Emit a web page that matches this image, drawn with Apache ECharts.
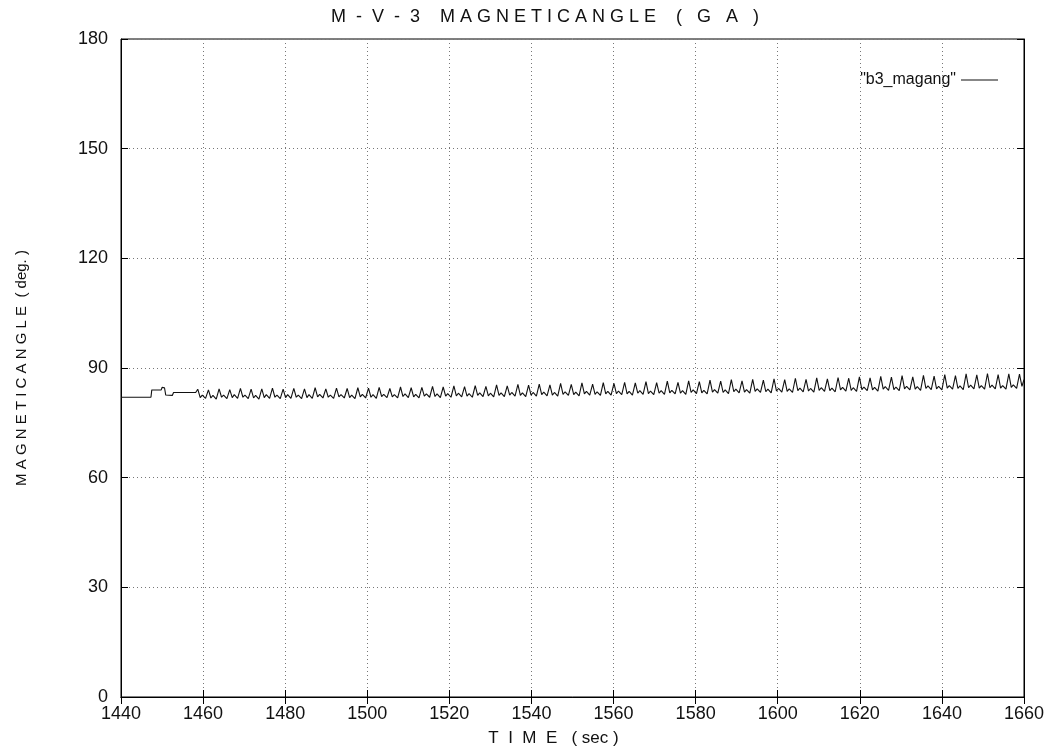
<!DOCTYPE html>
<html>
<head>
<meta charset="utf-8">
<script src="https://cdn.jsdelivr.net/npm/echarts@6/dist/echarts.min.js"></script>
<style>html,body{margin:0;padding:0;background:#fff}#c{width:1055px;height:755px}</style>
</head>
<body>
<div id="c"></div>
<script>
const chartTitle = 'M  -  V  -  3    M A G N E T I C A N G L E    (   G   A   )';
const xName = 'T  I  M  E   ( sec )';
const yName = 'M A G N E T I C A N G L E  ( deg. )';
const seriesName = '"b3_magang"';
const xRange = [1440, 1660, 20];
const yRange = [0, 180, 30];

// flat start before the oscillations: [time, angle]
const leadIn = [
  [1440,82.0],[1447.3,82.0],[1447.5,84.0],[1449.8,84.0],[1450.0,84.7],[1450.6,84.6],
  [1450.9,82.6],[1452.5,82.5],[1452.8,83.3],[1458.2,83.3]
];
// oscillating part: [time, angle]
const oscillation = [
  [1458.7,84.2],[1459.3,81.9],[1459.8,82.6],[1460.6,81.7],
  [1461.3,84.0],[1461.9,81.8],[1462.4,82.5],[1463.2,81.5],
  [1463.9,84.3],[1464.5,82.0],[1465.0,82.6],[1465.8,81.6],
  [1466.5,84.1],[1467.1,81.9],[1467.6,82.7],[1468.4,81.7],
  [1469.1,84.4],[1469.7,82.0],[1470.2,82.6],[1471.0,81.6],
  [1471.7,84.2],[1472.3,81.8],[1472.8,82.5],[1473.6,81.5],
  [1474.3,84.3],[1474.9,81.9],[1475.4,82.7],[1476.2,81.7],
  [1476.9,84.5],[1477.5,82.0],[1478.0,82.6],[1478.8,81.6],
  [1479.5,84.2],[1480.1,81.9],[1480.6,82.7],[1481.4,81.7],
  [1482.1,84.4],[1482.7,82.0],[1483.2,82.6],[1484.0,81.6],
  [1484.7,84.3],[1485.3,81.9],[1485.8,82.7],[1486.6,81.7],
  [1487.3,84.6],[1487.9,82.1],[1488.4,82.8],[1489.2,81.8],
  [1489.9,84.3],[1490.5,82.0],[1491.0,82.6],[1491.8,81.7],
  [1492.5,84.5],[1493.1,82.1],[1493.6,82.7],[1494.4,81.8],
  [1495.1,84.4],[1495.7,81.9],[1496.2,82.6],[1497.0,81.6],
  [1497.7,84.6],[1498.3,82.1],[1498.8,82.8],[1499.6,81.8],
  [1500.3,84.5],[1500.9,82.0],[1501.4,82.7],[1502.2,81.7],
  [1502.9,84.7],[1503.5,82.2],[1504.0,82.8],[1504.8,81.9],
  [1505.5,84.4],[1506.1,82.1],[1506.6,82.7],[1507.4,81.8],
  [1508.1,84.8],[1508.7,82.2],[1509.2,82.9],[1510.0,81.9],
  [1510.7,84.6],[1511.3,82.1],[1511.8,82.8],[1512.6,81.8],
  [1513.3,84.7],[1513.9,82.3],[1514.4,82.9],[1515.2,82.0],
  [1515.9,85.0],[1516.5,82.2],[1517.0,82.9],[1517.8,81.9],
  [1518.5,84.8],[1519.1,82.3],[1519.6,83.0],[1520.4,82.0],
  [1521.1,85.1],[1521.7,82.4],[1522.2,83.1],[1523.0,82.1],
  [1523.7,84.9],[1524.3,82.3],[1524.8,83.0],[1525.6,82.0],
  [1526.3,85.2],[1526.9,82.5],[1527.4,83.2],[1528.2,82.2],
  [1528.9,85.0],[1529.5,82.4],[1530.0,83.1],[1530.8,82.1],
  [1531.5,85.4],[1532.1,82.5],[1532.6,83.2],[1533.4,82.2],
  [1534.1,85.1],[1534.7,82.6],[1535.2,83.3],[1536.0,82.3],
  [1536.7,85.5],[1537.3,82.5],[1537.8,83.2],[1538.6,82.2],
  [1539.3,85.3],[1539.9,82.6],[1540.4,83.3],[1541.2,82.3],
  [1541.9,85.6],[1542.5,82.7],[1543.0,83.4],[1543.8,82.4],
  [1544.5,85.4],[1545.1,82.6],[1545.6,83.3],[1546.4,82.3],
  [1547.1,85.8],[1547.7,82.8],[1548.2,83.5],[1549.0,82.5],
  [1549.7,85.5],[1550.3,82.7],[1550.8,83.4],[1551.6,82.4],
  [1552.3,85.9],[1552.9,82.9],[1553.4,83.6],[1554.2,82.6],
  [1554.9,85.6],[1555.5,82.8],[1556.0,83.5],[1556.8,82.5],
  [1557.5,86.0],[1558.1,82.9],[1558.6,83.6],[1559.4,82.6],
  [1560.1,85.8],[1560.7,83.0],[1561.2,83.7],[1562.0,82.7],
  [1562.7,86.1],[1563.3,82.9],[1563.8,83.6],[1564.6,82.6],
  [1565.3,85.9],[1565.9,83.1],[1566.4,83.8],[1567.2,82.8],
  [1567.9,86.3],[1568.5,83.0],[1569.0,83.7],[1569.8,82.7],
  [1570.5,86.0],[1571.1,83.1],[1571.6,83.8],[1572.4,82.8],
  [1573.1,86.4],[1573.7,83.2],[1574.2,83.9],[1575.0,82.9],
  [1575.7,86.1],[1576.3,83.1],[1576.8,83.8],[1577.6,82.8],
  [1578.3,86.5],[1578.9,83.3],[1579.4,84.0],[1580.2,83.0],
  [1580.9,86.3],[1581.5,83.2],[1582.0,83.9],[1582.8,82.9],
  [1583.5,86.7],[1584.1,83.4],[1584.6,84.1],[1585.4,83.1],
  [1586.1,86.4],[1586.7,83.3],[1587.2,84.0],[1588.0,83.0],
  [1588.7,86.8],[1589.3,83.5],[1589.8,84.2],[1590.6,83.2],
  [1591.3,86.5],[1591.9,83.4],[1592.4,84.1],[1593.2,83.1],
  [1593.9,86.9],[1594.5,83.6],[1595.0,84.3],[1595.8,83.3],
  [1596.5,86.7],[1597.1,83.5],[1597.6,84.2],[1598.4,83.2],
  [1599.1,87.0],[1599.7,83.7],[1600.2,84.4],[1601.0,83.4],
  [1601.7,86.8],[1602.3,83.6],[1602.8,84.3],[1603.6,83.3],
  [1604.3,87.2],[1604.9,83.8],[1605.4,84.5],[1606.2,83.5],
  [1606.9,86.9],[1607.5,83.7],[1608.0,84.4],[1608.8,83.4],
  [1609.5,87.3],[1610.1,83.9],[1610.6,84.6],[1611.4,83.6],
  [1612.1,87.0],[1612.7,83.8],[1613.2,84.5],[1614.0,83.5],
  [1614.7,87.4],[1615.3,84.0],[1615.8,84.7],[1616.6,83.7],
  [1617.3,87.2],[1617.9,83.9],[1618.4,84.6],[1619.2,83.6],
  [1619.9,87.6],[1620.5,84.1],[1621.0,84.8],[1621.8,83.8],
  [1622.5,87.3],[1623.1,84.0],[1623.6,84.7],[1624.4,83.7],
  [1625.1,87.7],[1625.7,84.2],[1626.2,84.9],[1627.0,83.9],
  [1627.7,87.5],[1628.3,84.1],[1628.8,84.8],[1629.6,83.8],
  [1630.3,87.9],[1630.9,84.3],[1631.4,85.0],[1632.2,84.0],
  [1632.9,87.6],[1633.5,84.2],[1634.0,84.9],[1634.8,83.9],
  [1635.5,88.0],[1636.1,84.4],[1636.6,85.1],[1637.4,84.1],
  [1638.1,87.8],[1638.7,84.3],[1639.2,85.0],[1640.0,84.0],
  [1640.7,88.2],[1641.3,84.5],[1641.8,85.2],[1642.6,84.2],
  [1643.3,87.9],[1643.9,84.4],[1644.4,85.1],[1645.2,84.1],
  [1645.9,88.4],[1646.5,84.6],[1647.0,85.3],[1647.8,84.3],
  [1648.5,88.1],[1649.1,84.5],[1649.6,85.2],[1650.4,84.2],
  [1651.1,88.5],[1651.7,84.6],[1652.2,85.3],[1653.0,84.3],
  [1653.7,88.2],[1654.3,84.5],[1654.8,85.2],[1655.6,84.2],
  [1656.3,88.4],[1656.9,84.7],[1657.4,85.4],[1658.2,84.4],
  [1658.9,88.3],[1659.5,85.0],[1660,86.8]
];

const FONT = '"Liberation Sans", Arial, sans-serif';
const chart = echarts.init(document.getElementById('c'), null, {renderer: 'canvas'});
const tickStyle = {show: true, inside: true, length: 7, lineStyle: {color: '#000', width: 1}};
const splitStyle = {show: true, lineStyle: {color: '#777', type: [1, 3], width: 1}};
const labelStyle = {color: '#111', fontSize: 18, fontFamily: FONT};

chart.setOption({
  animation: false,
  backgroundColor: '#fff',
  title: {
    text: chartTitle, left: 326, top: 3,
    textStyle: {fontSize: 18, fontWeight: 'normal', color: '#111', fontFamily: FONT}
  },
  legend: {
    right: 52, top: 67, align: 'right',
    icon: 'rect', itemWidth: 37, itemHeight: 1.2, itemGap: 10,
    textStyle: {fontSize: 16, color: '#111', fontFamily: FONT},
    data: [seriesName]
  },
  grid: {left: 121, right: 31, top: 39, bottom: 58, show: true, borderColor: '#000', borderWidth: 1},
  xAxis: [{
    type: 'value', min: xRange[0], max: xRange[1], interval: xRange[2],
    name: xName, nameLocation: 'middle', nameGap: 33,
    nameTextStyle: {fontSize: 17, color: '#111', fontFamily: FONT, padding: [0, 38, 0, 0]},
    axisLine: {show: true, lineStyle: {color: '#000'}},
    axisTick: tickStyle, splitLine: splitStyle,
    axisLabel: Object.assign({margin: 8, formatter: v => String(v)}, labelStyle)
  }, {
    type: 'value', position: 'top', min: xRange[0], max: xRange[1], interval: xRange[2],
    axisLine: {show: true, lineStyle: {color: '#000'}}, axisTick: tickStyle,
    axisLabel: {show: false}, splitLine: {show: false}
  }],
  yAxis: [{
    type: 'value', min: yRange[0], max: yRange[1], interval: yRange[2],
    name: yName, nameLocation: 'middle', nameGap: 92, nameRotate: 90,
    nameTextStyle: {fontSize: 15, color: '#111', fontFamily: FONT},
    axisLine: {show: true, lineStyle: {color: '#000'}},
    axisTick: tickStyle, splitLine: splitStyle,
    axisLabel: Object.assign({margin: 13}, labelStyle)
  }, {
    type: 'value', position: 'right', min: yRange[0], max: yRange[1], interval: yRange[2],
    axisLine: {show: true, lineStyle: {color: '#000'}}, axisTick: tickStyle,
    axisLabel: {show: false}, splitLine: {show: false}
  }],
  series: [{
    name: seriesName, type: 'line', xAxisIndex: 0, yAxisIndex: 0,
    data: leadIn.concat(oscillation),
    showSymbol: false, symbol: 'none',
    lineStyle: {color: '#111', width: 1.1},
    itemStyle: {color: '#111'}
  }]
});
</script>
</body>
</html>
